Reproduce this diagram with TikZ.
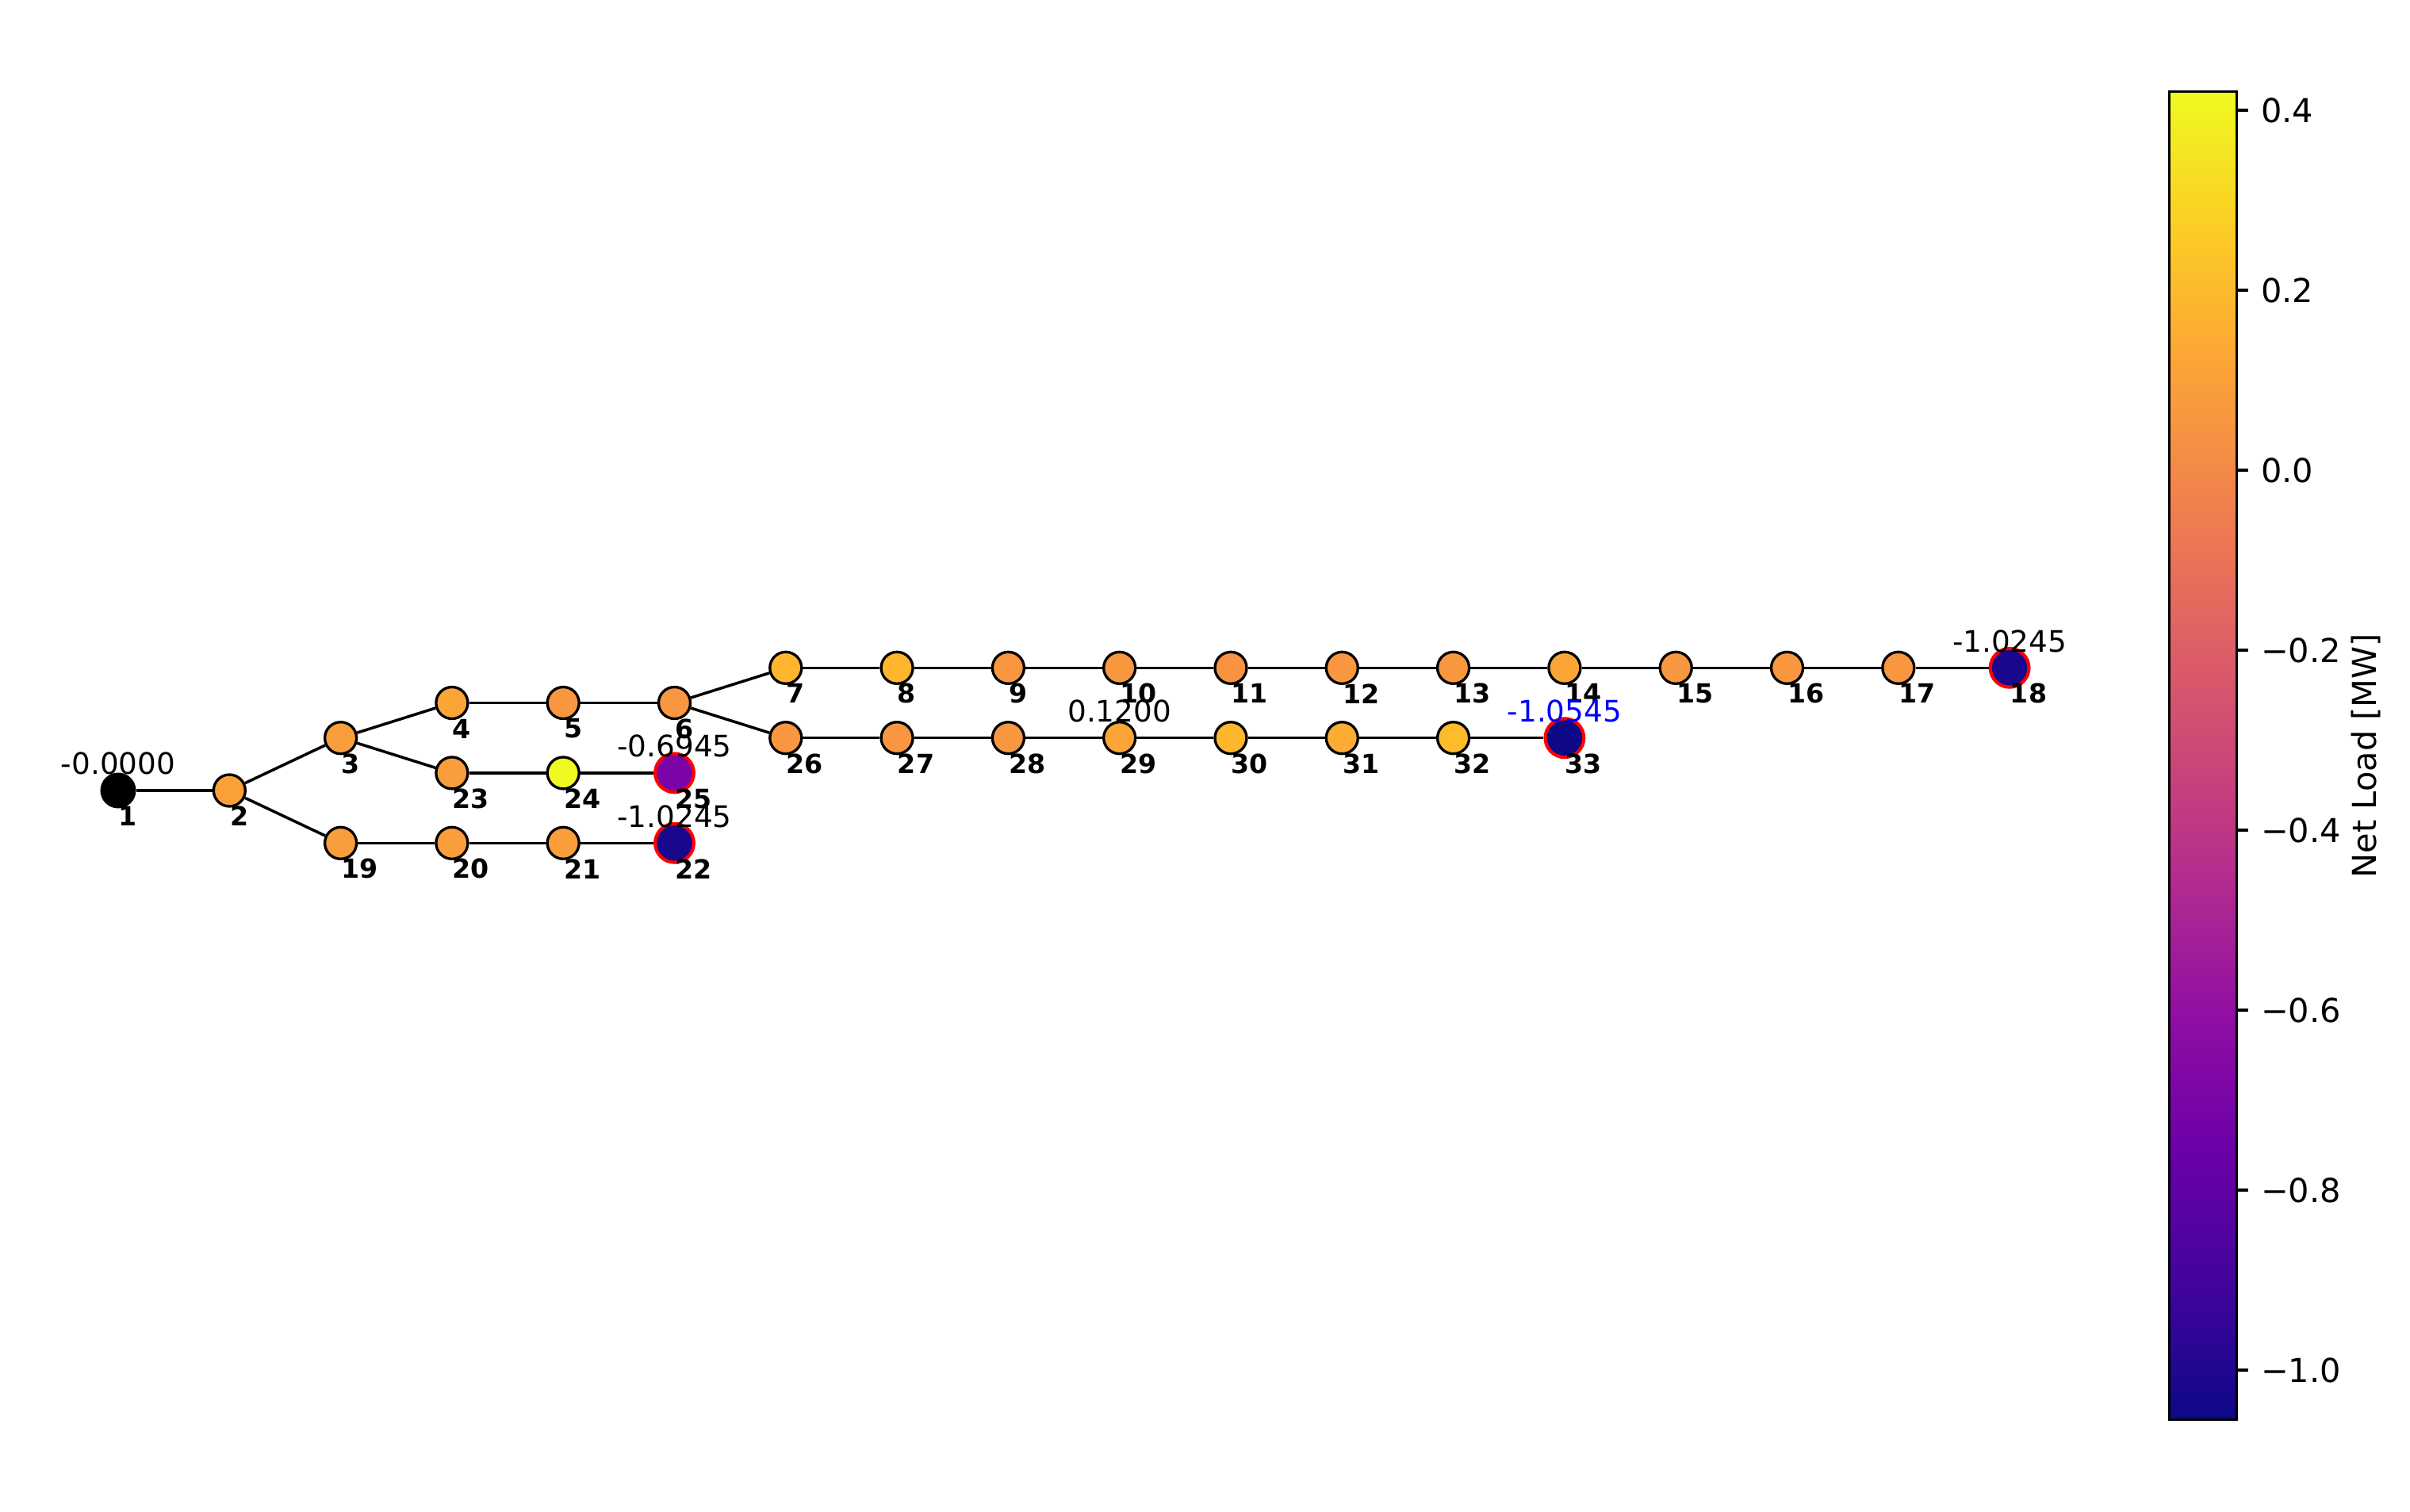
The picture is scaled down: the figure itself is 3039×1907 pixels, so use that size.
\documentclass[tikz,border=0pt]{standalone}
\usepackage{fontspec}
\setmainfont{DejaVu Sans}

% plasma colour map, steps of 0.1
\definecolor{pl0}{HTML}{0D0887}
\definecolor{pl1}{HTML}{41049D}
\definecolor{pl2}{HTML}{6A00A8}
\definecolor{pl3}{HTML}{8F0DA4}
\definecolor{pl4}{HTML}{B12A90}
\definecolor{pl5}{HTML}{CC4778}
\definecolor{pl6}{HTML}{E16462}
\definecolor{pl7}{HTML}{F2844B}
\definecolor{pl8}{HTML}{FCA636}
\definecolor{pl9}{HTML}{FCCE25}
\definecolor{pl10}{HTML}{F0F921}
\pgfdeclareverticalshading{plasma}{100bp}{color(0bp)=(pl0); color(25bp)=(pl0);
  color(30bp)=(pl1); color(35bp)=(pl2); color(40bp)=(pl3); color(45bp)=(pl4);
  color(50bp)=(pl5); color(55bp)=(pl6); color(60bp)=(pl7); color(65bp)=(pl8);
  color(70bp)=(pl9); color(75bp)=(pl10); color(100bp)=(pl10)}

% bus colours (net load in MW)
\definecolor{ld045}{RGB}{247,147,65}
\definecolor{ld060}{RGB}{248,151,63}
\definecolor{ld090}{RGB}{250,158,59}
\definecolor{ld100}{RGB}{251,160,57}
\definecolor{ld120}{RGB}{252,165,55}
\definecolor{ld150}{RGB}{253,172,51}
\definecolor{ld200}{RGB}{254,183,45}
\definecolor{ld210}{RGB}{254,187,44}
\definecolor{ld420}{RGB}{240,249,33}
\definecolor{ld0695}{RGB}{124,3,168}
\definecolor{ld1025}{RGB}{25,7,140}
\definecolor{ld1055}{RGB}{13,8,135}

\begin{document}
\begin{tikzpicture}[x=0.24bp,y=-0.24bp,
  bus/.style={circle,draw=black,line width=0.8bp,minimum size=9.6bp,inner sep=0pt},
  slackbus/.style={bus,fill=black,minimum size=10bp},
  dgbus/.style={bus,draw=red,line width=1bp,minimum size=11.7bp},
  wire/.style={line width=0.85bp},
  busno/.style={font=\fontsize{8}{8}\selectfont\bfseries,anchor=west,inner sep=0pt},
  busval/.style={font=\fontsize{9}{9}\selectfont,inner sep=0pt},
  cbtick/.style={line width=0.8bp},
  ticklab/.style={font=\fontsize{10}{10}\selectfont,anchor=west,inner sep=0pt}]
\def\xo{149}
\def\dx{140.3}
\def\ya{842.3}
\def\yb{886.5}
\def\yc{930.7}
\def\yd{974.9}
\def\ye{997}
\def\yf{1063.3}

\useasboundingbox (0,0) rectangle (3039,1907);

% buses
\node[slackbus] (n1) at (\xo,\ye) {};
\node[bus,fill=ld100] (n2) at ({\xo+\dx},\ye) {};
\node[bus,fill=ld090] (n3) at ({\xo+2*\dx},\yc) {};
\foreach \i/\clr in {4/ld120,5/ld060,6/ld060}
  \node[bus,fill=\clr] (n\i) at ({\xo+(\i-1)*\dx},\yb) {};
\foreach \i/\clr in {7/ld200,8/ld200,9/ld060,10/ld060,11/ld045,12/ld060,13/ld060,14/ld120,15/ld060,16/ld060,17/ld060}
  \node[bus,fill=\clr] (n\i) at ({\xo+(\i-1)*\dx},\ya) {};
\node[dgbus,fill=ld1025] (n18) at ({\xo+17*\dx},\ya) {};
\foreach \i/\clr in {19/ld090,20/ld090,21/ld090}
  \node[bus,fill=\clr] (n\i) at ({\xo+(\i-17)*\dx},\yf) {};
\node[dgbus,fill=ld1025] (n22) at ({\xo+5*\dx},\yf) {};
\foreach \i/\clr in {23/ld090,24/ld420}
  \node[bus,fill=\clr] (n\i) at ({\xo+(\i-20)*\dx},\yd) {};
\node[dgbus,fill=ld0695] (n25) at ({\xo+5*\dx},\yd) {};
\foreach \i/\clr in {26/ld060,27/ld060,28/ld060,29/ld120,30/ld200,31/ld150,32/ld210}
  \node[bus,fill=\clr] (n\i) at ({\xo+(\i-20)*\dx},\yc) {};
\node[dgbus,fill=ld1055] (n33) at ({\xo+13*\dx},\yc) {};

% lines
\foreach \a/\b in {1/2,2/3,3/4,4/5,5/6,6/7,7/8,8/9,9/10,10/11,11/12,12/13,13/14,14/15,15/16,16/17,17/18,
                   2/19,19/20,20/21,21/22,3/23,23/24,24/25,6/26,26/27,27/28,28/29,29/30,30/31,31/32,32/33}
  \draw[wire] (n\a) -- (n\b);

% bus numbers
\foreach \i in {1,...,33}
  \node[busno] (no\i) at ([yshift=-7.8bp]n\i.center) {\i};

% net load values
\node[busval] (v1) at ([yshift=8.1bp]n1.center) {-0.0000};
\node[busval] (v25) at ([yshift=8.1bp]n25.center) {-0.6945};
\node[busval] (v22) at ([yshift=8.1bp]n22.center) {-1.0245};
\node[busval] (v29) at ([yshift=8.1bp]n29.center) {0.1200};
\node[busval,text=blue] (v33) at ([yshift=8.1bp]n33.center) {-1.0545};
\node[busval] (v18) at ([yshift=8.1bp]n18.center) {-1.0245};

% colour bar
\coordinate (cbtop) at (2735.7,115.7);
\coordinate (cbbot) at (2820.7,1790.7);
\shade[shading=plasma] (cbtop) rectangle (cbbot);
\draw[line width=0.8bp] (cbtop) rectangle (cbbot);
\foreach \v/\t [count=\k] in {0.4/0.4,0.2/0.2,0.0/0.0,-0.2/−0.2,-0.4/−0.4,-0.6/−0.6,-0.8/−0.8,-1.0/−1.0}
  \draw[cbtick] (2820.7,{139+(0.4-\v)*1135}) -- ++(14.6,0) node[ticklab,xshift=3.4bp] (tk\k) {\t};
\node[font=\fontsize{10}{10}\selectfont,rotate=90,inner sep=0pt] (cblabel) at (2983,953) {Net Load [MW]};
\end{tikzpicture}
\end{document}
